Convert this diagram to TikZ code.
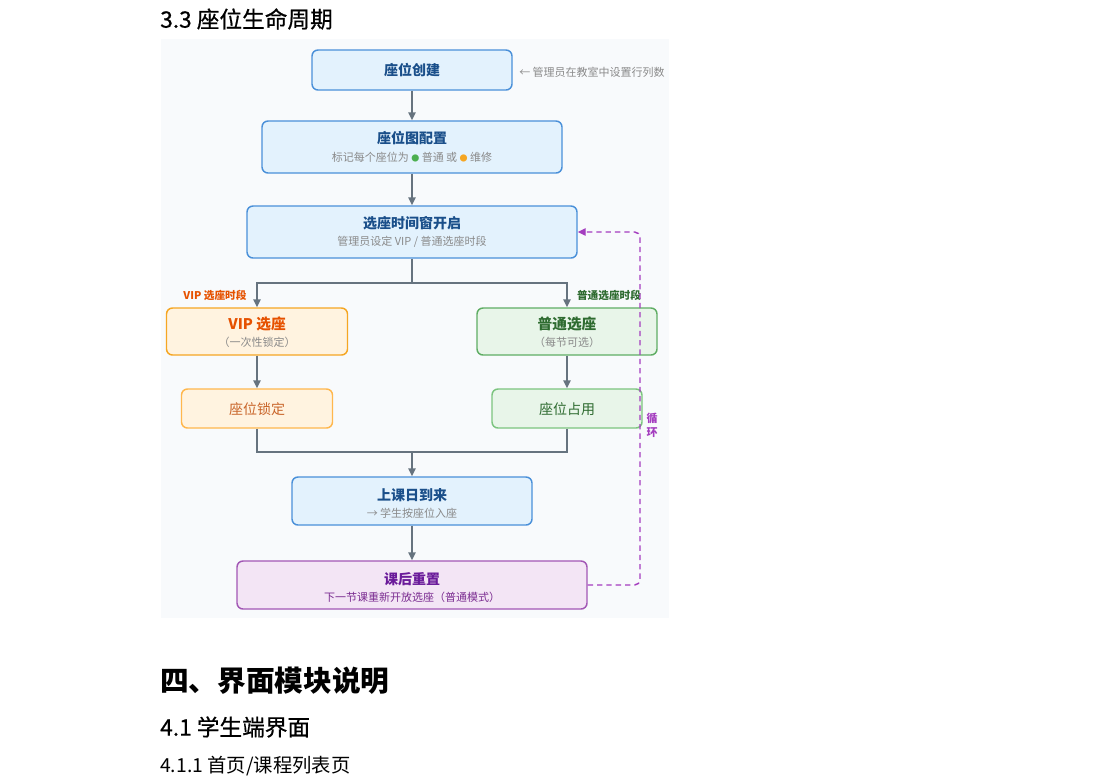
\documentclass[tikz,border=0pt]{standalone}
\usepackage{fontspec}
\setmainfont{Noto Sans CJK SC}
\newfontfamily\medcjk{Noto Sans CJK SC}[FakeBold=0.6]
\usetikzlibrary{arrows.meta,calc}
\definecolor{bluefill}{HTML}{E3F2FD}
\definecolor{blueline}{HTML}{4A90D9}
\definecolor{bluetext}{HTML}{1A4F8A}
\definecolor{subgray}{HTML}{8A8A8A}
\definecolor{conncol}{HTML}{66737F}
\definecolor{orfill}{HTML}{FFF3E0}
\definecolor{orline}{HTML}{F5A623}
\definecolor{ortext}{HTML}{E65100}
\definecolor{lockline}{HTML}{FFB74D}
\definecolor{locktext}{HTML}{C9652A}
\definecolor{grfill}{HTML}{E8F5E9}
\definecolor{grline}{HTML}{5FAD64}
\definecolor{grtext}{HTML}{2E6B30}
\definecolor{occline}{HTML}{7CC47F}
\definecolor{pufill}{HTML}{F3E5F5}
\definecolor{puline}{HTML}{A257B5}
\definecolor{putext}{HTML}{6A1B9A}
\definecolor{pusub}{HTML}{7B2D91}
\definecolor{loopc}{HTML}{A43DBF}
\definecolor{panelc}{HTML}{F8FAFC}
\definecolor{dotgreen}{HTML}{4CAF50}
\definecolor{dotorange}{HTML}{F5A623}
\begin{document}
\begin{tikzpicture}[x=0.75pt,y=-0.75pt,
  box/.style={rectangle, rounded corners=4.5pt, line width=1.1pt, inner sep=0pt},
  bluebox/.style={box, draw=blueline, fill=bluefill},
  vipbox/.style={box, draw=orline, fill=orfill},
  lockbox/.style={box, draw=lockline, fill=orfill},
  normbox/.style={box, draw=grline, fill=grfill},
  occbox/.style={box, draw=occline, fill=grfill},
  resetbox/.style={box, draw=puline, fill=pufill},
  ttl/.style={inner sep=0pt, font=\fontsize{10.5}{12}\selectfont\bfseries},
  sub/.style={inner sep=0pt, font=\fontsize{8.25}{10}\selectfont},
  plain/.style={inner sep=0pt, font=\fontsize{10.5}{12}\selectfont},
  tag/.style={inner sep=0pt, font=\fontsize{8}{9}\selectfont\bfseries},
  head/.style={inner sep=0pt, anchor=west, text=black},
  conn/.style={draw=conncol, line width=1.1pt},
  arr/.style={conn, -{Triangle[length=6pt,width=5.5pt]}},
  loopline/.style={draw=loopc, line width=1.1pt, dash pattern=on 4pt off 3pt, rounded corners=4pt, -{Triangle[length=6pt,width=5.5pt]}}
]
\useasboundingbox (0,0) rectangle (1097,783);
\fill[white] (0,0) rectangle (1097,783);
\fill[panelc] (161,39) rectangle (669,618);

% headings
\node[head, font=\medcjk\fontsize{17}{20}\selectfont] (h33) at (160,19) {3.3 座位生命周期};
\node[head, font=\fontsize{21.5}{24}\selectfont\bfseries] (h4) at (160,681) {四、界面模块说明};
\node[head, font=\medcjk\fontsize{17}{20}\selectfont] (h41) at (160,727) {4.1 学生端界面};
\node[head, font=\fontsize{14.5}{17}\selectfont] (h411) at (160,766) {4.1.1 首页/课程列表页};

% boxes
\node[bluebox, minimum width=150pt, minimum height=30pt] (create) at (412,70) {};
\node[bluebox, minimum width=225pt, minimum height=39pt] (map) at (412,147) {};
\node[bluebox, minimum width=247.5pt, minimum height=39pt] (window) at (412,232) {};
\node[vipbox, minimum width=135.75pt, minimum height=35.25pt] (vip) at (257,331.5) {};
\node[normbox, minimum width=135pt, minimum height=35.25pt] (normal) at (567,331.5) {};
\node[lockbox, minimum width=113.25pt, minimum height=29.25pt] (lock) at (257,408.5) {};
\node[occbox, minimum width=112.5pt, minimum height=29.25pt] (occupy) at (567,408.5) {};
\node[bluebox, minimum width=180pt, minimum height=36pt] (class) at (412,501) {};
\node[resetbox, minimum width=262.5pt, minimum height=36pt] (reset) at (412,585) {};

% texts
\node[ttl, text=bluetext] (createT) at (412,70) {座位创建};
\node[sub, text=subgray, anchor=west] (createN) at (519,72) {← 管理员在教室中设置行列数};

\node[ttl, text=bluetext] (mapT) at (412,138) {座位图配置};
\node[sub, text=subgray] (mapS) at (412,157) {标记每个座位为 {\color{dotgreen}\fontsize{6}{6}\selectfont ●} 普通 或 {\color{dotorange}\fontsize{6}{6}\selectfont ●} 维修};

\node[ttl, text=bluetext] (windowT) at (412,223) {选座时间窗开启};
\node[sub, text=subgray] (windowS) at (412,242) {管理员设定 VIP / 普通选座时段};

\node[ttl, text=ortext, font=\fontsize{11}{13}\selectfont\bfseries] (vipT) at (257,324) {VIP 选座};
\node[sub, text=subgray] (vipS) at (257,342) {（一次性锁定）};
\node[ttl, text=grtext, font=\fontsize{11}{13}\selectfont\bfseries] (normalT) at (567,324) {普通选座};
\node[sub, text=subgray] (normalS) at (567,342) {（每节可选）};

\node[plain, text=locktext] (lockT) at (257,409) {座位锁定};
\node[plain, text=grtext] (occT) at (567,409) {座位占用};

\node[ttl, text=bluetext] (classT) at (412,495) {上课日到来};
\node[sub, text=subgray] (classS) at (412,513) {→ 学生按座位入座};

\node[ttl, text=putext] (resetT) at (412,579) {课后重置};
\node[sub, text=pusub] (resetS) at (412,597) {下一节课重新开放选座（普通模式）};

\node[tag, text=ortext] (vipTag) at (215,295) {VIP 选座时段};
\node[tag, text=grtext] (normTag) at (609,295) {普通选座时段};
\node[sub, text=loopc, align=center, font=\fontsize{8.25}{10.5}\selectfont\bfseries] (loopT) at (652,425) {循\\环};

% connectors
\coordinate (split) at (412,283);
\coordinate (join) at (412,452);
\coordinate (loopx) at (640,400);
\draw[arr] (create.south) -- (map.north);
\draw[arr] (map.south) -- (window.north);
\draw[conn] (window.south) -- (split);
\draw[arr] (split) -| (vip.north);
\draw[arr] (split) -| (normal.north);
\draw[arr] (vip.south) -- (lock.north);
\draw[arr] (normal.south) -- (occupy.north);
\draw[conn] (lock.south) |- (join);
\draw[conn] (occupy.south) |- (join);
\draw[arr] (join) -- (class.north);
\draw[arr] (class.south) -- (reset.north);
\draw[loopline] (reset.east) -- (reset.east -| loopx) -- (window.east -| loopx) -- (window.east);
\end{tikzpicture}
\end{document}
